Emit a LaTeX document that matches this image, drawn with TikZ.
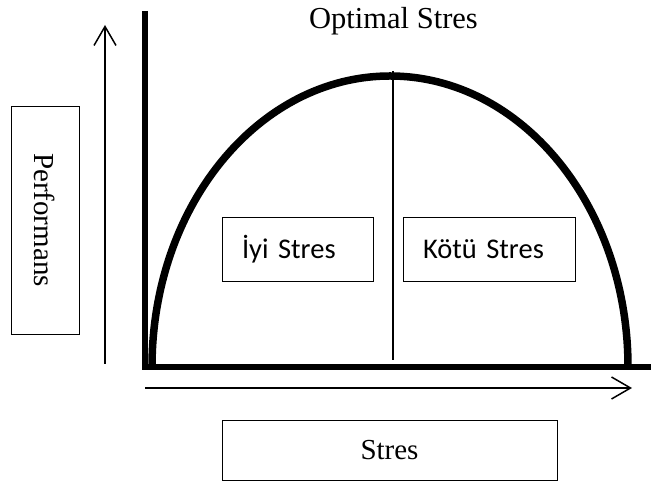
\documentclass[tikz,border=0pt]{standalone}
\usepackage{fontspec}
\setmainfont{Liberation Serif}
\newfontfamily\calfont{Carlito}
\usetikzlibrary{arrows.meta}
\tikzset{
  labelbox/.style={draw, line width=0.8pt, inner sep=0pt, font=\fontsize{29}{34}\selectfont},
  sidebox/.style={draw, line width=0.8pt, inner ysep=0pt, inner xsep=20pt, minimum height=64pt, align=left, font=\calfont\fontsize{28.5}{32}\selectfont},
  axisarrow/.style={line width=1.5pt, -{Straight Barb[length=19pt,width=22pt,line width=1.5pt]}},
  thickline/.style={line width=5.5pt},
}
\begin{document}
\begin{tikzpicture}[x=1pt,y=1pt]
\useasboundingbox (0,0) rectangle (651,484);
% axes
\draw[thickline, line join=miter] (145,473) -- (145,117) -- (651,117);
% curve
\draw[line width=7.5pt] (152,117) arc[start angle=180, end angle=0, x radius=238, y radius=291];
% middle line
\coordinate (mtop) at (393,413);
\coordinate (mbot) at (393,124);
\draw[line width=2pt] (mtop) -- (mbot);
% arrows
\coordinate (ua) at (105,120);
\coordinate (ub) at (105,459);
\draw[axisarrow] (ua) -- (ub);
\coordinate (ra) at (145,96);
\coordinate (rb) at (632,96);
\draw[axisarrow] (ra) -- (rb);
% boxes
\node[labelbox, minimum width=68pt, minimum height=228pt] (perf) at (45,264) {};
\node[rotate=-90, font=\fontsize{29}{34}\selectfont] (perft) at (perf.center) {Performans};
\node[labelbox, minimum width=335pt, minimum height=60pt] (stres) at (389.5,34) {Stres};
\node[sidebox, text width=111pt] (iyi) at (297.5,235) {İyi Stres};
\node[sidebox, text width=132pt] (kotu) at (489,235) {Kötü Stres};
\node[anchor=base, font=\fontsize{30.5}{34}\selectfont, inner sep=0pt] (opt) at (393.5,455) {Optimal Stres};
\end{tikzpicture}
\end{document}
